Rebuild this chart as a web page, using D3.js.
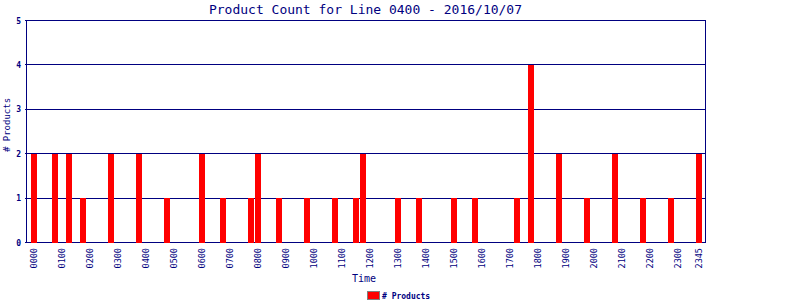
<!DOCTYPE html>
<html>
<head>
<meta charset="utf-8">
<script src="https://cdn.jsdelivr.net/npm/d3@7"></script>
<style>
  body { margin: 0; background: #fff; }
  text { font-family: "DejaVu Sans Mono", monospace; fill: #000080; }
</style>
</head>
<body>
<div id="chart"></div>
<script>
// datos (intervalos de 15 min con productos)
const times = ["0000", "0045", "0115", "0145", "0245", "0345", "0445", "0600", "0645", "0745",
  "0800", "0845", "0945", "1045", "1130", "1145", "1300", "1345", "1500", "1545",
  "1715", "1745", "1845", "1945", "2045", "2145", "2245", "2345"];
const counts = [2, 2, 2, 1, 2, 2, 1, 2, 1, 1,
  2, 1, 1, 1, 1, 2, 1, 1, 1, 1,
  1, 4, 2, 1, 2, 1, 1, 2];

const tickLabels = ["0000", "0100", "0200", "0300", "0400", "0500", "0600", "0700", "0800",
  "0900", "1000", "1100", "1200", "1300", "1400", "1500", "1600", "1700", "1800",
  "1900", "2000", "2100", "2200", "2300", "2345"];
const yTicks = [0, 1, 2, 3, 4, 5];

// todos los cuartos de hora del dia
const slots = [];
for (let h = 0; h < 24; h++) {
  for (let m = 0; m < 60; m += 15) {
    slots.push(String(h).padStart(2, "0") + String(m).padStart(2, "0"));
  }
}

const width = 800;
const height = 300;
const plot = {left: 26.5, right: 705.5, top: 20.5, bottom: 242.5};

const svg = d3.select("#chart").append("svg")
  .attr("width", width).attr("height", height);

const x = d3.scaleBand().domain(slots).range([31, 703]);
const y = d3.scaleLinear().domain([0, 5]).range([plot.bottom, plot.top]);

// lineas de la grilla
svg.append("g")
  .selectAll("line")
  .data(yTicks)
  .join("line")
  .attr("x1", plot.left - 2)
  .attr("x2", plot.right)
  .attr("y1", d => Math.round(y(d) - 0.5) + 0.5)
  .attr("y2", d => Math.round(y(d) - 0.5) + 0.5)
  .attr("stroke", "#000080")
  .attr("shape-rendering", "crispEdges");

svg.append("line")
  .attr("x1", plot.left).attr("x2", plot.left)
  .attr("y1", plot.top).attr("y2", plot.bottom)
  .attr("stroke", "#000080").attr("shape-rendering", "crispEdges");
svg.append("line")
  .attr("x1", plot.right).attr("x2", plot.right)
  .attr("y1", plot.top).attr("y2", plot.bottom)
  .attr("stroke", "#000080").attr("shape-rendering", "crispEdges");

// barras
svg.append("g")
  .selectAll("rect")
  .data(times)
  .join("rect")
  .attr("x", d => x(d))
  .attr("width", x.bandwidth() - 1)
  .attr("y", (d, i) => Math.round(y(counts[i])))
  .attr("height", (d, i) => Math.round(plot.bottom) - Math.round(y(counts[i])))
  .attr("fill", "#ff0000")
  .attr("shape-rendering", "crispEdges");

// etiquetas eje y
svg.append("g")
  .selectAll("text")
  .data(yTicks)
  .join("text")
  .attr("x", 21)
  .attr("y", d => y(d) + 3)
  .attr("text-anchor", "end")
  .attr("font-size", 8)
  .attr("font-weight", "bold")
  .text(d => d);

// etiquetas eje x (verticales)
svg.append("g")
  .selectAll("text")
  .data(tickLabels)
  .join("text")
  .attr("transform", d => `translate(${x(d) + x.bandwidth() / 2 - 0.5}, 248) rotate(-90)`)
  .attr("text-anchor", "end")
  .attr("dy", "0.35em")
  .attr("font-size", 8.5)
  .text(d => d);

// titulos
svg.append("text")
  .attr("x", 365.5).attr("y", 14)
  .attr("text-anchor", "middle")
  .attr("font-size", 13)
  .text("Product Count for Line 0400 - 2016/10/07");

svg.append("text")
  .attr("x", 364).attr("y", 282)
  .attr("text-anchor", "middle")
  .attr("font-size", 10)
  .text("Time");

svg.append("text")
  .attr("transform", "translate(10, 125) rotate(-90)")
  .attr("text-anchor", "middle")
  .attr("font-size", 9)
  .text("# Products");

// leyenda
svg.append("rect")
  .attr("x", 367.5).attr("y", 291.5)
  .attr("width", 12).attr("height", 8)
  .attr("fill", "#ff0000")
  .attr("stroke", "#808080");
svg.append("text")
  .attr("x", 382).attr("y", 298.5)
  .attr("font-size", 8)
  .attr("font-weight", "bold")
  .text("# Products");
</script>
</body>
</html>
